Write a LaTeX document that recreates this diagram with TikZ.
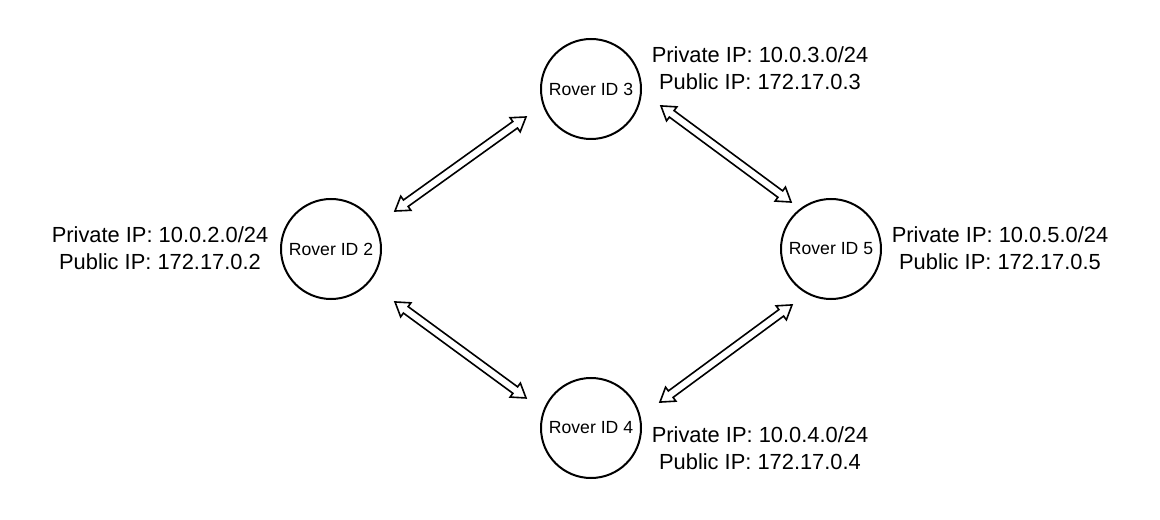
\documentclass[tikz,border=0pt]{standalone}
\usepackage{fontspec}
\setmainfont{Liberation Sans}
\usetikzlibrary{calc}

\tikzset{
  rover/.style={circle, draw, line width=1.5pt, minimum size=75pt, inner sep=0pt,
    font=\fontsize{13.2}{15}\selectfont},
  iplabel/.style={align=center, inner sep=0pt, font=\fontsize{16.4}{20}\selectfont},
  duplex/.style={line width=1.2pt, to path={
    let \p1=(\tikztostart), \p2=(\tikztotarget),
        \n1={atan2(\y2-\y1,\x2-\x1)} in
    (\p1) -- ($(\p1)+(\n1:10pt)+(\n1+90:6.5pt)$) -- ($(\p1)+(\n1:10pt)+(\n1+90:3pt)$)
    -- ($(\p2)+(\n1+180:10pt)+(\n1+90:3pt)$) -- ($(\p2)+(\n1+180:10pt)+(\n1+90:6.5pt)$)
    -- (\p2)
    -- ($(\p2)+(\n1+180:10pt)+(\n1-90:6.5pt)$) -- ($(\p2)+(\n1+180:10pt)+(\n1-90:3pt)$)
    -- ($(\p1)+(\n1:10pt)+(\n1-90:3pt)$) -- ($(\p1)+(\n1:10pt)+(\n1-90:6.5pt)$)
    -- cycle}}
}

\begin{document}
\begin{tikzpicture}[x=0.75pt, y=0.75pt]
  \useasboundingbox (0,0) rectangle (1160,-520);

  % Rovers
  \node[rover] (r2) at (331,-249) {Rover ID 2};
  \node[rover] (r3) at (591,-89) {Rover ID 3};
  \node[rover] (r4) at (591,-428) {Rover ID 4};
  \node[rover] (r5) at (831,-249) {Rover ID 5};

  % Addresses
  \node[iplabel] (ip2) at (160,-248) {Private IP: 10.0.2.0/24\\Public IP: 172.17.0.2};
  \node[iplabel] (ip3) at (760,-68) {Private IP: 10.0.3.0/24\\Public IP: 172.17.0.3};
  \node[iplabel] (ip4) at (760,-448) {Private IP: 10.0.4.0/24\\Public IP: 172.17.0.4};
  \node[iplabel] (ip5) at (1000,-248) {Private IP: 10.0.5.0/24\\Public IP: 172.17.0.5};

  % Links
  \draw[duplex] ($(r2)+(30.7:74.4)$) to ($(r3)+(203.3:70.8)$);
  \draw[duplex] ($(r3)+(-13.6:72)$) to ($(r5)+(130.4:61.7)$);
  \draw[duplex] ($(r2)+(-39.6:83.1)$) to ($(r4)+(155.2:71.6)$);
  \draw[duplex] ($(r5)+(235.1:68.2)$) to ($(r4)+(20.6:73.7)$);
\end{tikzpicture}
\end{document}
